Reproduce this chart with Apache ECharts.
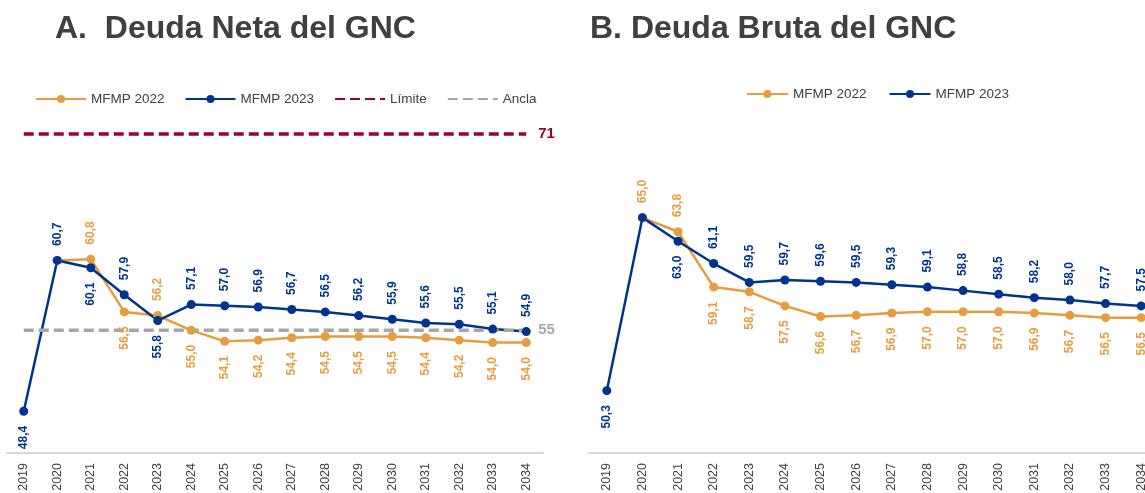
<!DOCTYPE html>
<html>
<head>
<meta charset="utf-8">
<script src="https://cdn.jsdelivr.net/npm/echarts@6/dist/echarts.min.js"></script>
<style>
  html, body { margin: 0; padding: 0; background: #fff; }
  #chart { width: 1145px; height: 493px; }
</style>
</head>
<body>
<div id="chart"></div>
<script>
// data
const years = ['2019', '2020', '2021', '2022', '2023', '2024', '2025', '2026',
  '2027', '2028', '2029', '2030', '2031', '2032', '2033', '2034']

const netaMfmp2022 = [null, 60.7, 60.8, 56.5, 56.2, 55.0, 54.1, 54.2, 54.4, 54.5, 54.5, 54.5, 54.4, 54.2, 54.0, 54.0]
const netaMfmp2023 = [48.4, 60.7, 60.1, 57.9, 55.8, 57.1, 57.0, 56.9, 56.7, 56.5, 56.2, 55.9, 55.6, 55.5, 55.1, 54.9]
const netaLimite = 71
const netaAncla = 55

const brutaMfmp2022 = [null, 65.0, 63.8, 59.1, 58.7, 57.5, 56.6, 56.7, 56.9, 57.0, 57.0, 57.0, 56.9, 56.7, 56.5, 56.5]
const brutaMfmp2023 = [50.3, 65.0, 63.0, 61.1, 59.5, 59.7, 59.6, 59.5, 59.3, 59.1, 58.8, 58.5, 58.2, 58.0, 57.7, 57.5]

const ORANGE = '#E59D3F'
const BLUE = '#00338D'
const RED = '#990033'
const GRAY = '#A6A6A6'
const TXT = '#404040'
const FONT = 'Arial, "Liberation Sans", sans-serif'

const fmt = v => v.toFixed(1).replace('.', ',')

// label above the higher line, below the lower one; on a tie only one is shown
function labelled(own, other, showOnTie) {
  return own.map((v, i) => {
    if (v == null) return '-'
    const o = other[i]
    let pos = 'bottom'
    let show = true
    if (o != null) {
      if (v > o) pos = 'top'
      else if (v === o) { pos = 'top'; show = showOnTie }
    }
    return {
      value: v,
      label: {
        show: show,
        position: pos,
        align: pos === 'top' ? 'left' : 'right'
      }
    }
  })
}

function lineSeries(name, color, data, axis) {
  return {
    name: name,
    type: 'line',
    xAxisIndex: axis,
    yAxisIndex: axis,
    data: data,
    symbol: 'circle',
    symbolSize: 9,
    lineStyle: { color: color, width: 2.5 },
    itemStyle: { color: color },
    label: {
      show: true,
      rotate: 90,
      distance: 10,
      verticalAlign: 'middle',
      color: color,
      fontWeight: 'bold',
      fontSize: 12,
      fontFamily: FONT,
      formatter: p => fmt(p.value)
    }
  }
}

function refLine(name, color, value, axis) {
  return {
    name: name,
    type: 'line',
    xAxisIndex: axis,
    yAxisIndex: axis,
    data: years.map(() => value),
    symbol: 'none',
    lineStyle: { color: color, width: 3.5, type: [10, 5] },
    itemStyle: { color: color },
    endLabel: {
      show: true,
      distance: 12,
      color: color,
      fontWeight: 'bold',
      fontSize: 15,
      fontFamily: FONT,
      formatter: () => String(value)
    }
  }
}

function xAxis(grid) {
  return {
    type: 'category',
    gridIndex: grid,
    data: years,
    boundaryGap: true,
    axisLine: { lineStyle: { color: '#D9D9D9', width: 2 } },
    axisTick: { show: false },
    axisLabel: { rotate: 90, interval: 0, margin: 10, fontSize: 12.5, color: TXT, fontFamily: FONT }
  }
}

function yAxis(grid) {
  return { type: 'value', gridIndex: grid, min: 45, max: 75, show: false }
}

const legendText = { color: TXT, fontSize: 13.5, fontFamily: FONT }
// dashed reference lines get no dot in the legend
const noDot = { opacity: 0 }

const chart = echarts.init(document.getElementById('chart'))

chart.setOption({
  animation: false,
  backgroundColor: '#fff',
  title: [
    { text: 'A.  Deuda Neta del GNC', left: 50, top: 8,
      textStyle: { fontSize: 32, fontWeight: 'bold', color: TXT, fontFamily: FONT } },
    { text: 'B. Deuda Bruta del GNC', left: 585, top: 8,
      textStyle: { fontSize: 32, fontWeight: 'bold', color: TXT, fontFamily: FONT } }
  ],
  legend: [
    {
      left: 30, top: 87, itemWidth: 50, itemHeight: 10, itemGap: 20,
      textStyle: legendText,
      data: ['MFMP 2022', 'MFMP 2023',
        { name: 'Límite', itemStyle: noDot }, { name: 'Ancla', itemStyle: noDot }]
    },
    {
      left: 741, top: 82, itemWidth: 41, itemHeight: 10, itemGap: 22,
      textStyle: legendText,
      data: ['MFMP 2022', 'MFMP 2023']
    }
  ],
  grid: [
    { left: 7, top: 85, width: 536, height: 368, outerBoundsMode: 'none' },
    { left: 589, top: 100, width: 570, height: 353, outerBoundsMode: 'none' }
  ],
  xAxis: [xAxis(0), xAxis(1)],
  yAxis: [yAxis(0), yAxis(1)],
  series: [
    lineSeries('MFMP 2022', ORANGE, labelled(netaMfmp2022, netaMfmp2023, false), 0),
    lineSeries('MFMP 2023', BLUE, labelled(netaMfmp2023, netaMfmp2022, true), 0),
    refLine('Límite', RED, netaLimite, 0),
    refLine('Ancla', GRAY, netaAncla, 0),
    lineSeries('MFMP 2022', ORANGE, labelled(brutaMfmp2022, brutaMfmp2023, true), 1),
    lineSeries('MFMP 2023', BLUE, labelled(brutaMfmp2023, brutaMfmp2022, false), 1)
  ]
})
</script>
</body>
</html>
